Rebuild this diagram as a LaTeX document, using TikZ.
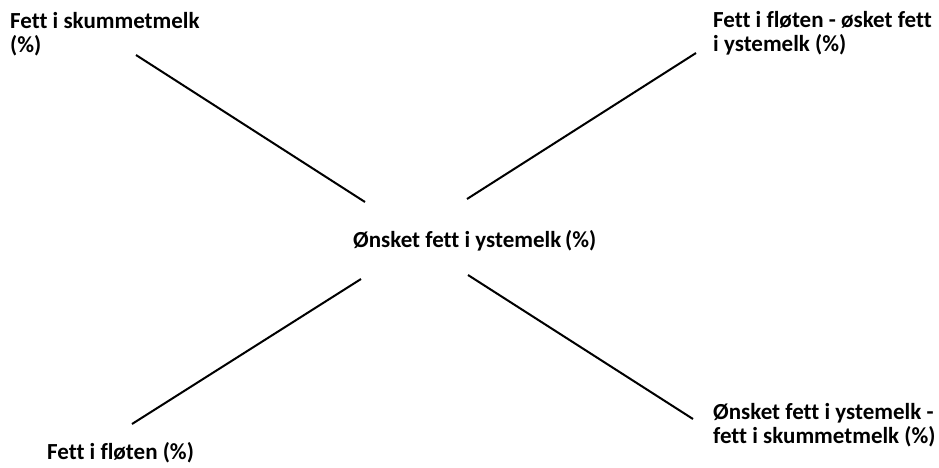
\documentclass[tikz,border=0pt]{standalone}
\usepackage{fontspec}
\setmainfont{Carlito}[Ligatures={NoCommon}]
\begin{document}
\begin{tikzpicture}[x=1pt,y=-1pt,
  lbl/.style={font=\bfseries\fontsize{23}{24}\selectfont, inner sep=0pt, align=left, text=black},
  conn/.style={line width=2pt, black}]
\useasboundingbox[fill=white] (0,0) rectangle (939,467);
\node[lbl, anchor=base west] (skum) at (10,52) {Fett i skummetmelk\\(\%)};
\node[lbl, anchor=base west] (flote) at (713,51) {Fett i fløten - øsket fett\\i ystemelk (\%)};
\node[lbl, anchor=base west] (mid) at (353,247) {Ønsket fett i ystemelk\,(\%)};
\node[lbl, anchor=base west] (flot2) at (47,459) {Fett i fløten (\%)};
\node[lbl, anchor=base west] (diff) at (713,443) {Ønsket fett i ystemelk -\\fett i skummetmelk (\%)};
\coordinate (a1) at (136,55); \coordinate (a2) at (365,202);
\coordinate (b1) at (467,199); \coordinate (b2) at (696,53);
\coordinate (c1) at (361,279); \coordinate (c2) at (132,424);
\coordinate (d1) at (468,275); \coordinate (d2) at (693,419);
\draw[conn] (a1) -- (a2);
\draw[conn] (b1) -- (b2);
\draw[conn] (c1) -- (c2);
\draw[conn] (d1) -- (d2);
\end{tikzpicture}
\end{document}
